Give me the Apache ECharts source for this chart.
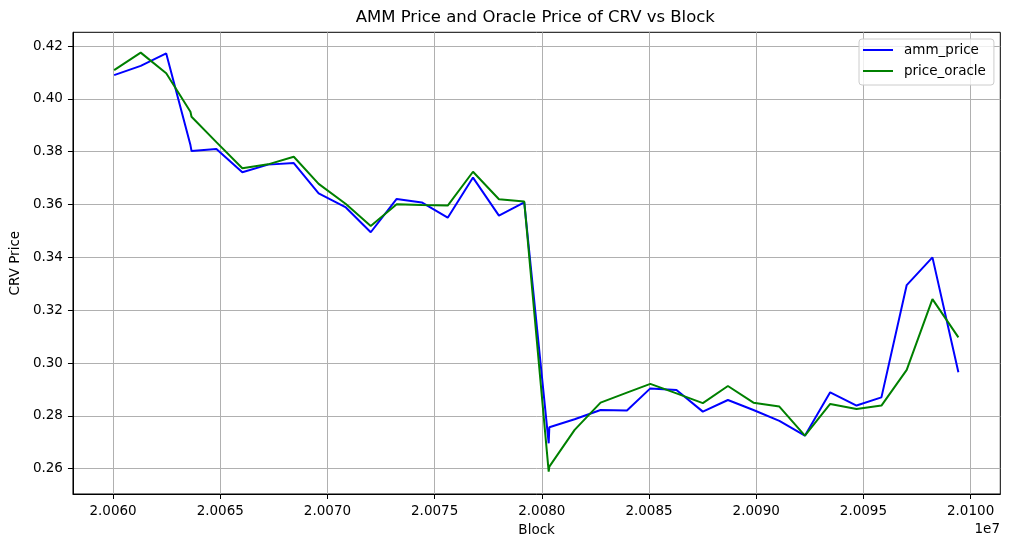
<!DOCTYPE html>
<html>
<head>
<meta charset="utf-8">
<script src="https://cdn.jsdelivr.net/npm/echarts@6/dist/echarts.min.js"></script>
<style>
  html, body { margin: 0; padding: 0; background: #fff; }
  #chart { width: 1010px; height: 547px; }
</style>
</head>
<body>
<div id="chart"></div>
<script>
const blocks = [
  20060050, 20061290, 20062480, 20063610, 20063660, 20064820, 20066030, 20067230,
  20068430, 20069590, 20070860, 20072020, 20073230, 20074400, 20075610, 20076790,
  20078000, 20079180, 20080320, 20080350, 20081530, 20082740, 20083970, 20085060,
  20086280, 20087510, 20088680, 20089870, 20091080, 20092270, 20093450, 20094680,
  20095840, 20097020, 20098220, 20099430
];
const ammPrice = [
  0.4090, 0.4125, 0.4172, 0.3825, 0.3803, 0.3810, 0.3722, 0.3751,
  0.3757, 0.3642, 0.3589, 0.3495, 0.3621, 0.3608, 0.3550, 0.3702,
  0.3558, 0.3608, 0.2696, 0.2757, 0.2787, 0.2822, 0.2820, 0.2904,
  0.2898, 0.2816, 0.2860, 0.2822, 0.2781, 0.2725, 0.2889, 0.2839,
  0.2870, 0.3295, 0.3400, 0.2965
];
const priceOracle = [
  0.4109, 0.4175, 0.4097, 0.3951, 0.3932, 0.3836, 0.3737, 0.3752,
  0.3781, 0.3678, 0.3602, 0.3519, 0.3601, 0.3598, 0.3596, 0.3724,
  0.3620, 0.3611, 0.2589, 0.2608, 0.2747, 0.2850, 0.2888, 0.2921,
  0.2885, 0.2848, 0.2913, 0.2850, 0.2835, 0.2725, 0.2845, 0.2826,
  0.2839, 0.2974, 0.3242, 0.3097
];
const xTicks = [20060000, 20065000, 20070000, 20075000, 20080000, 20085000, 20090000, 20095000, 20100000];
const yTicks = [0.26, 0.28, 0.30, 0.32, 0.34, 0.36, 0.38, 0.40, 0.42];

const FONT = 'DejaVu Sans';
const chart = echarts.init(document.getElementById('chart'), null, { renderer: 'canvas' });

const ammData = blocks.map((b, i) => [b, ammPrice[i]]);
const oracleData = blocks.map((b, i) => [b, priceOracle[i]]);

chart.setOption({
  animation: false,
  backgroundColor: '#ffffff',
  grid: {
    left: 70.3, right: 9.7, top: 32.3, bottom: 53,
    show: true, borderColor: '#000', borderWidth: 1, backgroundColor: 'transparent'
  },
  legend: {
    orient: 'vertical',
    left: 859, top: 39,
    padding: [3, 8, 6, 4],
    itemWidth: 30, itemHeight: 2, itemGap: 5,
    icon: 'rect',
    backgroundColor: 'rgba(255,255,255,0.8)',
    borderColor: '#cccccc', borderWidth: 1, borderRadius: 3,
    textStyle: { fontFamily: FONT, fontSize: 13.5, color: '#000', lineHeight: 16, padding: [0, 0, 0, 6] },
    data: ['amm_price', 'price_oracle']
  },
  xAxis: {
    type: 'value',
    min: 20058130, max: 20101385,
    name: 'Block', nameLocation: 'middle', nameGap: 29,
    nameTextStyle: { fontFamily: FONT, fontSize: 13.5, color: '#000' },
    axisLine: { show: true, onZero: false, lineStyle: { color: '#000', width: 1 } },
    axisTick: { show: true, length: 5, lineStyle: { color: '#000', width: 1 }, customValues: xTicks },
    axisLabel: {
      customValues: xTicks, margin: 10,
      fontFamily: FONT, fontSize: 13.5, color: '#000',
      formatter: v => (v / 1e7).toFixed(4)
    },
    splitLine: { show: true, lineStyle: { color: '#b0b0b0', width: 1 } }
  },
  yAxis: {
    type: 'value',
    min: 0.25042, max: 0.42519,
    name: 'CRV Price', nameLocation: 'middle', nameGap: 47,
    nameTextStyle: { fontFamily: FONT, fontSize: 13.5, color: '#000' },
    axisLine: { show: true, onZero: false, lineStyle: { color: '#000', width: 1 } },
    axisTick: { show: true, length: 5, lineStyle: { color: '#000', width: 1 }, customValues: yTicks },
    axisLabel: {
      customValues: yTicks, margin: 10,
      fontFamily: FONT, fontSize: 13.5, color: '#000',
      formatter: v => v.toFixed(2)
    },
    splitLine: { show: true, lineStyle: { color: '#b0b0b0', width: 1 } }
  },
  graphic: [
    {
      type: 'text', x: 535.3, y: 17.5,
      style: { text: 'AMM Price and Oracle Price of CRV vs Block', font: '16.5px "DejaVu Sans"', fill: '#000', align: 'center', verticalAlign: 'middle' }
    },
    {
      type: 'text', x: 1000, y: 529,
      style: { text: '1e7', font: '13.5px "DejaVu Sans"', fill: '#000', align: 'right', verticalAlign: 'middle' }
    }
  ],
  series: [
    {
      name: 'amm_price', type: 'line', data: ammData,
      showSymbol: false, symbol: 'none',
      lineStyle: { color: '#0000ff', width: 2 }, itemStyle: { color: '#0000ff' }
    },
    {
      name: 'price_oracle', type: 'line', data: oracleData,
      showSymbol: false, symbol: 'none',
      lineStyle: { color: '#008000', width: 2 }, itemStyle: { color: '#008000' }
    }
  ]
});
</script>
</body>
</html>
